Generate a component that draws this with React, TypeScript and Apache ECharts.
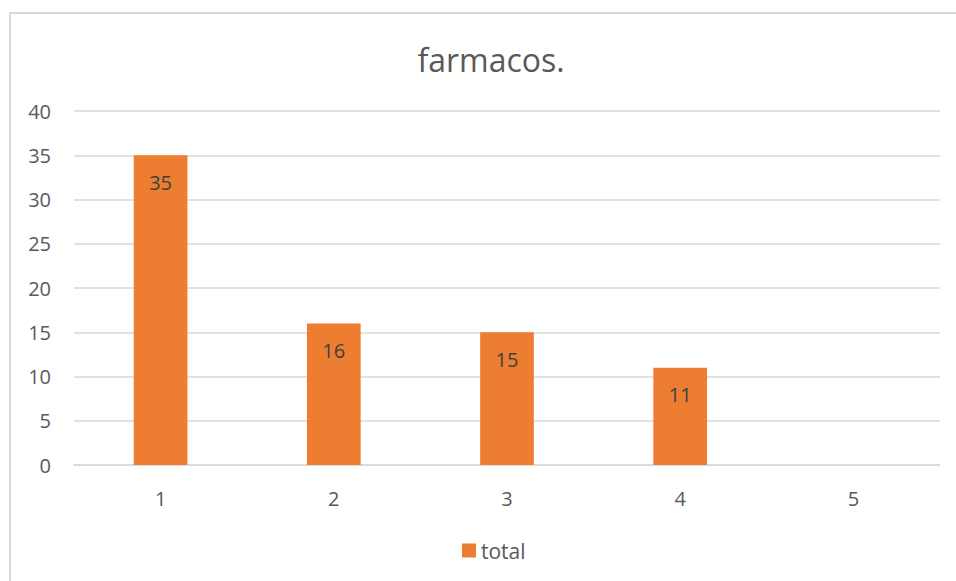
import React, { useEffect, useRef } from "react";
import * as echarts from "echarts";

const categories = ["1", "2", "3", "4", "5"];
const totalValues: (number | null)[] = [35, 16, 15, 11, null];
const yTicks = { min: 0, max: 40, interval: 5 };
const titleText = "farmacos.";
const seriesName = "total";

export default function App() {
  const ref = useRef<HTMLDivElement>(null);
  useEffect(() => {
    if (!ref.current) return;
    const chart = echarts.init(ref.current, undefined, { renderer: "svg" });
    const font = "'Open Sans', sans-serif";
    chart.setOption({
      animation: false,
      textStyle: { fontFamily: font },
      title: {
        text: titleText,
        left: 486,
        top: 38,
        textAlign: "center",
        textStyle: { fontFamily: font, fontSize: 32, fontWeight: "normal", color: "#595959" },
      },
      graphic: [
        {
          type: "rect",
          shape: { x: 10, y: 13, width: 960, height: 600 },
          style: { fill: "none", stroke: "#d9d9d9", lineWidth: 2 },
          silent: true,
        },
      ],
      legend: {
        data: [seriesName],
        top: 535,
        left: 457,
        icon: "rect",
        itemWidth: 14,
        itemHeight: 14,
        itemGap: 5,
        textStyle: { fontFamily: font, fontSize: 21, color: "#595959", padding: [0, 0, 0, 0] },
      },
      grid: { left: 74, right: 16, top: 111, bottom: 116 },
      xAxis: {
        type: "category",
        data: categories,
        axisLine: { show: true, lineStyle: { color: "#d9d9d9", width: 1.5 } },
        axisTick: { show: false },
        axisLabel: { fontFamily: font, fontSize: 20, color: "#595959", margin: 23 },
      },
      yAxis: {
        type: "value",
        min: yTicks.min,
        max: yTicks.max,
        interval: yTicks.interval,
        axisLine: { show: false },
        axisTick: { show: false },
        splitLine: { lineStyle: { color: "#d9d9d9", width: 1.5 } },
        axisLabel: { fontFamily: font, fontSize: 20, color: "#595959", margin: 23 },
      },
      series: [
        {
          name: seriesName,
          type: "bar",
          data: totalValues,
          barWidth: "31%",
          itemStyle: { color: "#ed7d31" },
          label: {
            show: true,
            position: "insideTop",
            distance: 17,
            fontFamily: font,
            fontSize: 20,
            color: "#404040",
          },
        },
      ],
    });
    return () => chart.dispose();
  }, []);
  return (
    <div
      ref={ref}
      style={{ position: "absolute", left: 0, top: 0, width: 956, height: 581 }}
    />
  );
}
